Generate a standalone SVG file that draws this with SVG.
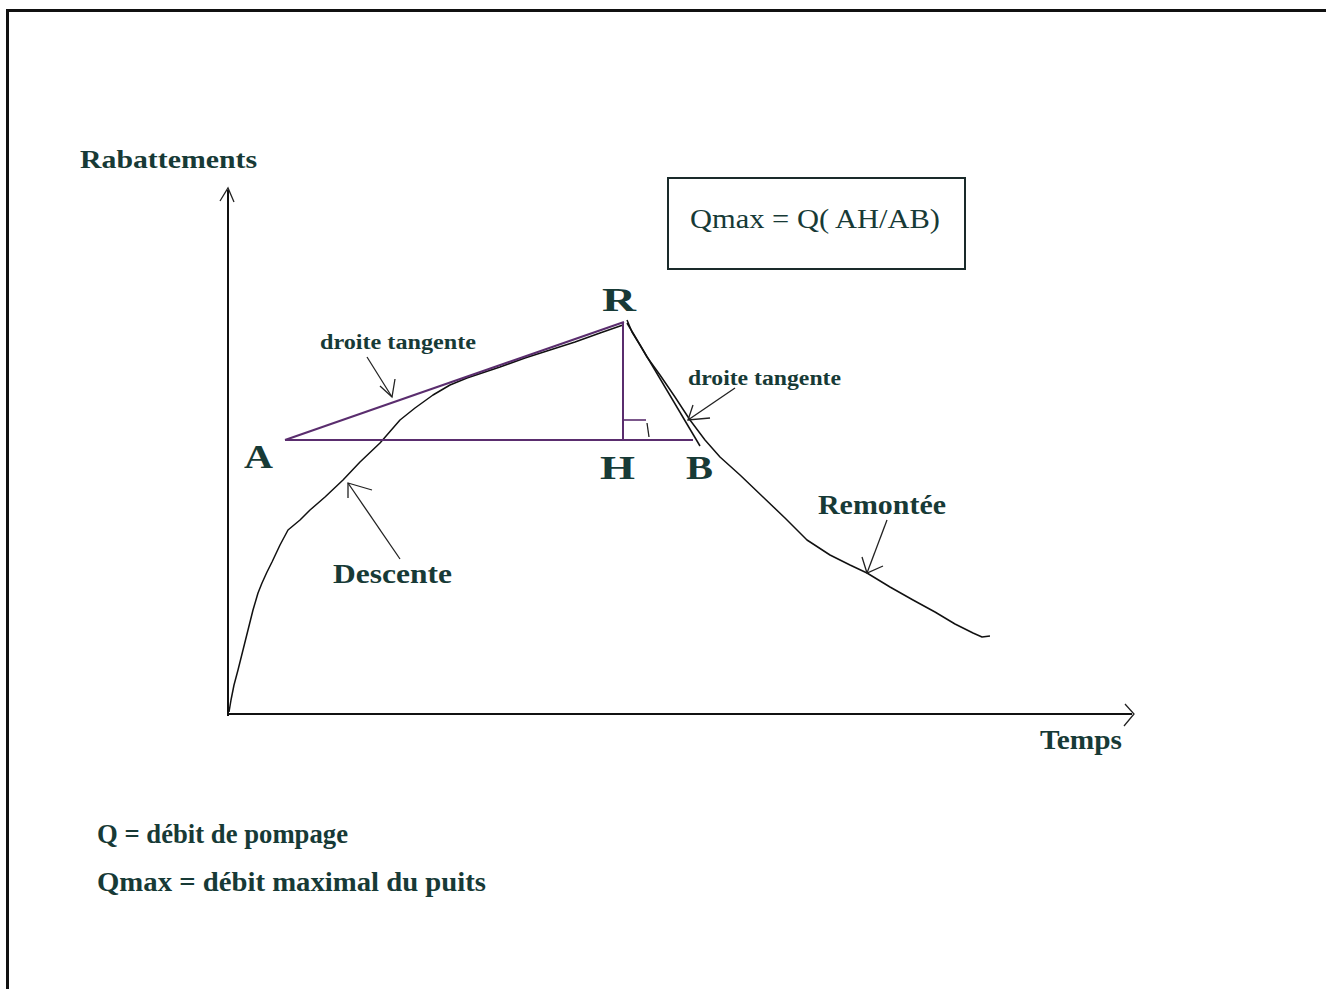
<svg xmlns="http://www.w3.org/2000/svg" width="1326" height="989" viewBox="0 0 1326 989">
<style>
.lbl{font-family:"Liberation Serif","Times New Roman",serif;font-weight:bold;fill:#173a36}
.reg{font-family:"Liberation Serif","Times New Roman",serif;fill:#173a36}
.ax{stroke:#111;stroke-width:2;fill:none}
.cv{stroke:#111;stroke-width:1.5;fill:none;stroke-linejoin:round}
.pl{stroke:#5a2d6e;stroke-width:2;fill:none}
.ar{stroke:#222;stroke-width:1.3;fill:none}
</style>
<rect x="0" y="0" width="1326" height="989" fill="#fff"/>
<rect x="7.5" y="10.5" width="1330" height="990" fill="none" stroke="#111" stroke-width="3"/>

<g id="axes">
<line class="ax" x1="228" y1="190" x2="228" y2="716"/>
<polyline class="ar" points="220,201 228,188 234,202"/>
<line class="ax" x1="227" y1="714" x2="1132" y2="714"/>
<polyline class="ar" points="1125,704 1134,714 1124,726"/>
</g>

<g id="connectors">
<polyline class="cv" points="229,712 231,700 234,685 238,670 243,650 248,630 253,610 258,593 262,583 267,572 272,562 280,545 288,530 300,520 310,510 325,497 343,480 360,462 380,443 400,420 415,408 433,395 450,385 467,378 485,372 500,367 525,358 550,350 575,342 600,333 623,325"/>
<polyline class="cv" points="627,320 632,332 640,345 647,357 660,375 675,397 690,420 705,440 720,457 740,475 763,497 785,518 807,540 830,555 850,565 867,573 890,587 913,600 935,612 955,624 973,633 982,637 990,636"/>
<line class="pl" x1="285" y1="440" x2="624" y2="322"/>
<line class="pl" x1="285" y1="440" x2="693" y2="440"/>
<line class="pl" x1="623" y1="322" x2="623" y2="440"/>
<polyline class="pl" points="623,420 646,420" style="stroke-width:1.6"/>
<line class="ar" x1="647" y1="423" x2="649" y2="437"/>
<line class="cv" x1="627" y1="323" x2="700" y2="446"/>
<line class="ar" x1="367" y1="357" x2="392" y2="397"/>
<polyline class="ar" points="380,386 392,397 395,379"/>
<line class="ar" x1="735" y1="388" x2="688" y2="420"/>
<polyline class="ar" points="693,405 688,420 710,418"/>
<line class="ar" x1="400" y1="559" x2="348" y2="483"/>
<polyline class="ar" points="348,498 348,483 372,490"/>
<line class="ar" x1="887" y1="520" x2="867" y2="573"/>
<polyline class="ar" points="862,557 867,573 883,566"/>
</g>

<g id="axis-labels">
<text class="lbl" x="80" y="168" font-size="25" textLength="177" lengthAdjust="spacingAndGlyphs">Rabattements</text>
<text class="lbl" x="1040" y="749" font-size="27" textLength="82" lengthAdjust="spacingAndGlyphs">Temps</text>
</g>

<g id="formula">
<rect x="668" y="178" width="297" height="91" fill="none" stroke="#1a2a2a" stroke-width="2"/>
<text class="reg" x="690" y="228" font-size="27" textLength="250" lengthAdjust="spacingAndGlyphs">Qmax = Q( AH/AB)</text>
</g>

<g id="points">
<text class="lbl" x="244" y="468" font-size="33" textLength="29" lengthAdjust="spacingAndGlyphs">A</text>
<text class="lbl" x="602" y="311" font-size="33" textLength="34" lengthAdjust="spacingAndGlyphs">R</text>
<text class="lbl" x="600" y="479" font-size="33" textLength="35" lengthAdjust="spacingAndGlyphs">H</text>
<text class="lbl" x="686" y="479" font-size="33" textLength="27" lengthAdjust="spacingAndGlyphs">B</text>
</g>

<g id="curve-labels">
<text class="lbl" x="320" y="349" font-size="20" textLength="156" lengthAdjust="spacingAndGlyphs">droite tangente</text>
<text class="lbl" x="688" y="385" font-size="20" textLength="153" lengthAdjust="spacingAndGlyphs">droite tangente</text>
<text class="lbl" x="333" y="583" font-size="27" textLength="119" lengthAdjust="spacingAndGlyphs">Descente</text>
<text class="lbl" x="818" y="514" font-size="27" textLength="128" lengthAdjust="spacingAndGlyphs">Remontée</text>
</g>

<g id="legend">
<text class="lbl" x="97" y="843" font-size="27" textLength="251" lengthAdjust="spacingAndGlyphs">Q = débit de pompage</text>
<text class="lbl" x="97" y="891" font-size="27" textLength="389" lengthAdjust="spacingAndGlyphs">Qmax = débit maximal du puits</text>
</g>
</svg>
